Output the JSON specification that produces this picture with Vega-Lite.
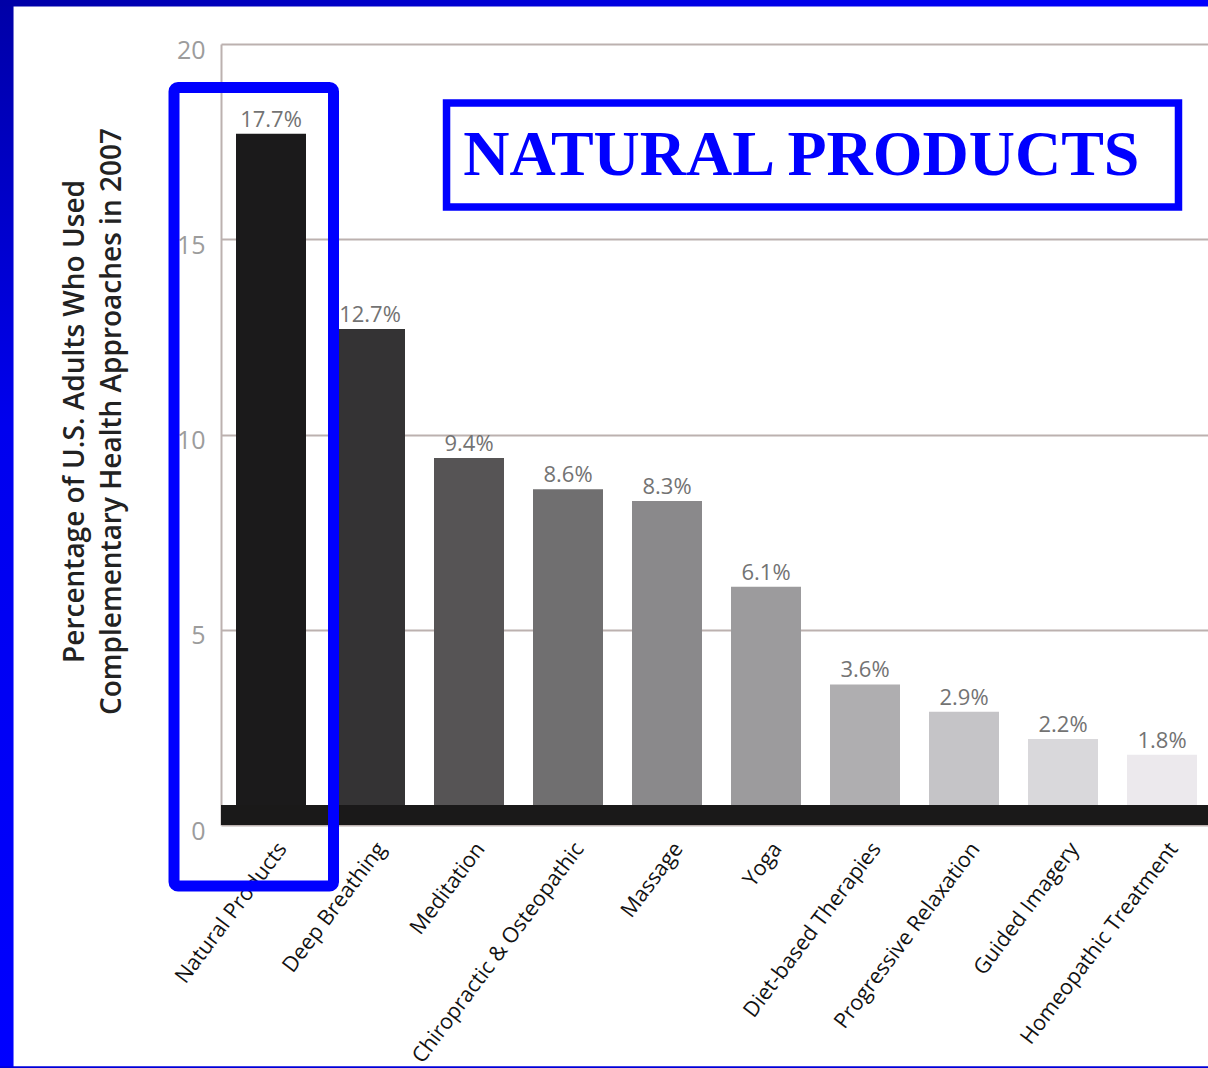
{
  "$schema": "https://vega.github.io/schema/vega-lite/v6.json",
  "width": 987,
  "height": 781,
  "autosize": {"type": "none"},
  "padding": {"left": 221, "top": 44, "right": 0, "bottom": 243},
  "background": "white",
  "config": {"view": {"stroke": null}},
  "data": {
    "values": [
      {"approach": "Natural Products", "pct": 17.7},
      {"approach": "Deep Breathing", "pct": 12.7},
      {"approach": "Meditation", "pct": 9.4},
      {"approach": "Chiropractic & Osteopathic", "pct": 8.6},
      {"approach": "Massage", "pct": 8.3},
      {"approach": "Yoga", "pct": 6.1},
      {"approach": "Diet-based Therapies", "pct": 3.6},
      {"approach": "Progressive Relaxation", "pct": 2.9},
      {"approach": "Guided Imagery", "pct": 2.2},
      {"approach": "Homeopathic Treatment", "pct": 1.8}
    ]
  },
  "layer": [
    {
      "layer": [
        {
          "mark": {"type": "bar"},
          "encoding": {
            "x": {
              "field": "approach",
              "type": "nominal",
              "sort": null,
              "scale": {"paddingInner": 0.2929, "paddingOuter": 0.1313, "align": 0.577},
              "axis": {
                "title": null,
                "labelAngle": -53,
                "labelFont": "Open Sans",
                "labelFontSize": 21.5,
                "labelColor": "#121212",
                "labelPadding": 20,
                "labelOffset": 12,
                "labelLimit": 0,
                "labelOverlap": false,
                "ticks": false,
                "domain": false
              }
            },
            "y": {
              "field": "pct",
              "type": "quantitative",
              "scale": {"domain": [0, 20], "nice": false},
              "axis": {
                "values": [0, 5, 10, 15, 20],
                "title": ["Percentage of U.S. Adults Who Used", "Complementary Health Approaches in 2007"],
                "titleFont": "Open Sans",
                "titleFontWeight": 600,
                "titleFontSize": 28,
                "titleColor": "#222222",
                "titleLineHeight": 37,
                "titlePadding": 50,
                "titleY": 377,
                "labelFont": "Open Sans",
                "labelFontSize": 25,
                "labelColor": "#9c9c9c",
                "labelPadding": 16,
                "labelOffset": 6,
                "ticks": false,
                "grid": true,
                "gridColor": "#bcb1af",
                "gridWidth": 2,
                "domain": true,
                "domainColor": "#bcb1af",
                "domainWidth": 2
              }
            },
            "color": {
              "field": "approach",
              "type": "nominal",
              "legend": null,
              "scale": {
                "domain": ["Natural Products", "Deep Breathing", "Meditation", "Chiropractic & Osteopathic", "Massage", "Yoga", "Diet-based Therapies", "Progressive Relaxation", "Guided Imagery", "Homeopathic Treatment"],
                "range": ["#1b1a1b", "#343334", "#565455", "#706f70", "#8a898b", "#9c9b9d", "#afaeb0", "#c5c4c7", "#d9d8db", "#ece9ed"]
              }
            }
          }
        },
        {
          "mark": {
            "type": "text",
            "font": "Open Sans",
            "fontSize": 22,
            "color": "#737373",
            "baseline": "alphabetic",
            "align": "center",
            "dy": -7,
            "text": {"expr": "format(datum.pct, '.1f') + '%'"}
          },
          "encoding": {
            "x": {"field": "approach", "type": "nominal", "sort": null},
            "y": {"field": "pct", "type": "quantitative", "scale": {"domain": [0, 20], "nice": false}}
          }
        },
        {
          "data": {"values": [{}]},
          "mark": {"type": "rect", "color": "#1a1919"},
          "encoding": {
            "y": {"datum": 0, "type": "quantitative", "scale": {"domain": [0, 20], "nice": false}},
            "y2": {"datum": 0.51}
          }
        }
      ]
    },
    {
      "layer": [
        {
          "data": {"values": [{}]},
          "mark": {
            "type": "rect",
            "color": {
              "gradient": "linear", "x1": 0, "y1": 0, "x2": 0, "y2": 1,
              "stops": [
                {"offset": 0, "color": "#0000a6"},
                {"offset": 0.4, "color": "#0000ee"},
                {"offset": 1, "color": "#0000ff"}
              ]
            }
          },
          "encoding": {
            "x": {"datum": -2.3, "type": "quantitative", "scale": {"domain": [0, 10], "nice": false, "zero": false}, "axis": null},
            "x2": {"datum": -2.102},
            "y": {"datum": 21.3, "type": "quantitative", "scale": {"domain": [0, 20], "nice": false}},
            "y2": {"datum": -6.4}
          }
        },
        {
          "data": {"values": [{}]},
          "mark": {
            "type": "rect",
            "color": {
              "gradient": "linear", "x1": 0, "y1": 0, "x2": 1, "y2": 0,
              "stops": [
                {"offset": 0, "color": "#0000a6"},
                {"offset": 0.5, "color": "#0000e0"},
                {"offset": 1, "color": "#0000ff"}
              ]
            }
          },
          "encoding": {
            "x": {"datum": -2.3, "type": "quantitative", "scale": {"domain": [0, 10], "nice": false, "zero": false}, "axis": null},
            "x2": {"datum": 10.3},
            "y": {"datum": 21.3, "type": "quantitative", "scale": {"domain": [0, 20], "nice": false}},
            "y2": {"datum": 20.96}
          }
        },
        {
          "data": {"values": [{}]},
          "mark": {"type": "rect", "color": "#0000d8"},
          "encoding": {
            "x": {"datum": -2.3, "type": "quantitative", "scale": {"domain": [0, 10], "nice": false, "zero": false}, "axis": null},
            "x2": {"datum": 10.3},
            "y": {"datum": -6.18, "type": "quantitative", "scale": {"domain": [0, 20], "nice": false}},
            "y2": {"datum": -6.4}
          }
        },
        {
          "data": {"values": [{}]},
          "mark": {"type": "rect", "fillOpacity": 0, "stroke": "#0000ff", "strokeWidth": 11, "cornerRadius": 4},
          "encoding": {
            "x": {"datum": -0.476, "type": "quantitative", "scale": {"domain": [0, 10], "nice": false, "zero": false}, "axis": null},
            "x2": {"datum": 1.14},
            "y": {"datum": 18.886, "type": "quantitative", "scale": {"domain": [0, 20], "nice": false}},
            "y2": {"datum": -1.562}
          }
        },
        {
          "data": {"values": [{}]},
          "mark": {"type": "rect", "fill": "white", "stroke": "#0000ff", "strokeWidth": 7.5},
          "encoding": {
            "x": {"datum": 2.285, "type": "quantitative", "scale": {"domain": [0, 10], "nice": false, "zero": false}, "axis": null},
            "x2": {"datum": 9.701},
            "y": {"datum": 18.489, "type": "quantitative", "scale": {"domain": [0, 20], "nice": false}},
            "y2": {"datum": 15.826}
          }
        },
        {
          "data": {"values": [{}]},
          "mark": {
            "type": "text",
            "text": "NATURAL PRODUCTS",
            "font": "Liberation Serif",
            "fontWeight": "bold",
            "fontSize": 64,
            "color": "#0000ff",
            "align": "center",
            "baseline": "alphabetic"
          },
          "encoding": {
            "x": {"datum": 5.88, "type": "quantitative", "scale": {"domain": [0, 10], "nice": false, "zero": false}, "axis": null},
            "y": {"datum": 16.645, "type": "quantitative", "scale": {"domain": [0, 20], "nice": false}}
          }
        }
      ]
    }
  ],
  "resolve": {"scale": {"x": "independent"}, "axis": {"x": "independent"}}
}
